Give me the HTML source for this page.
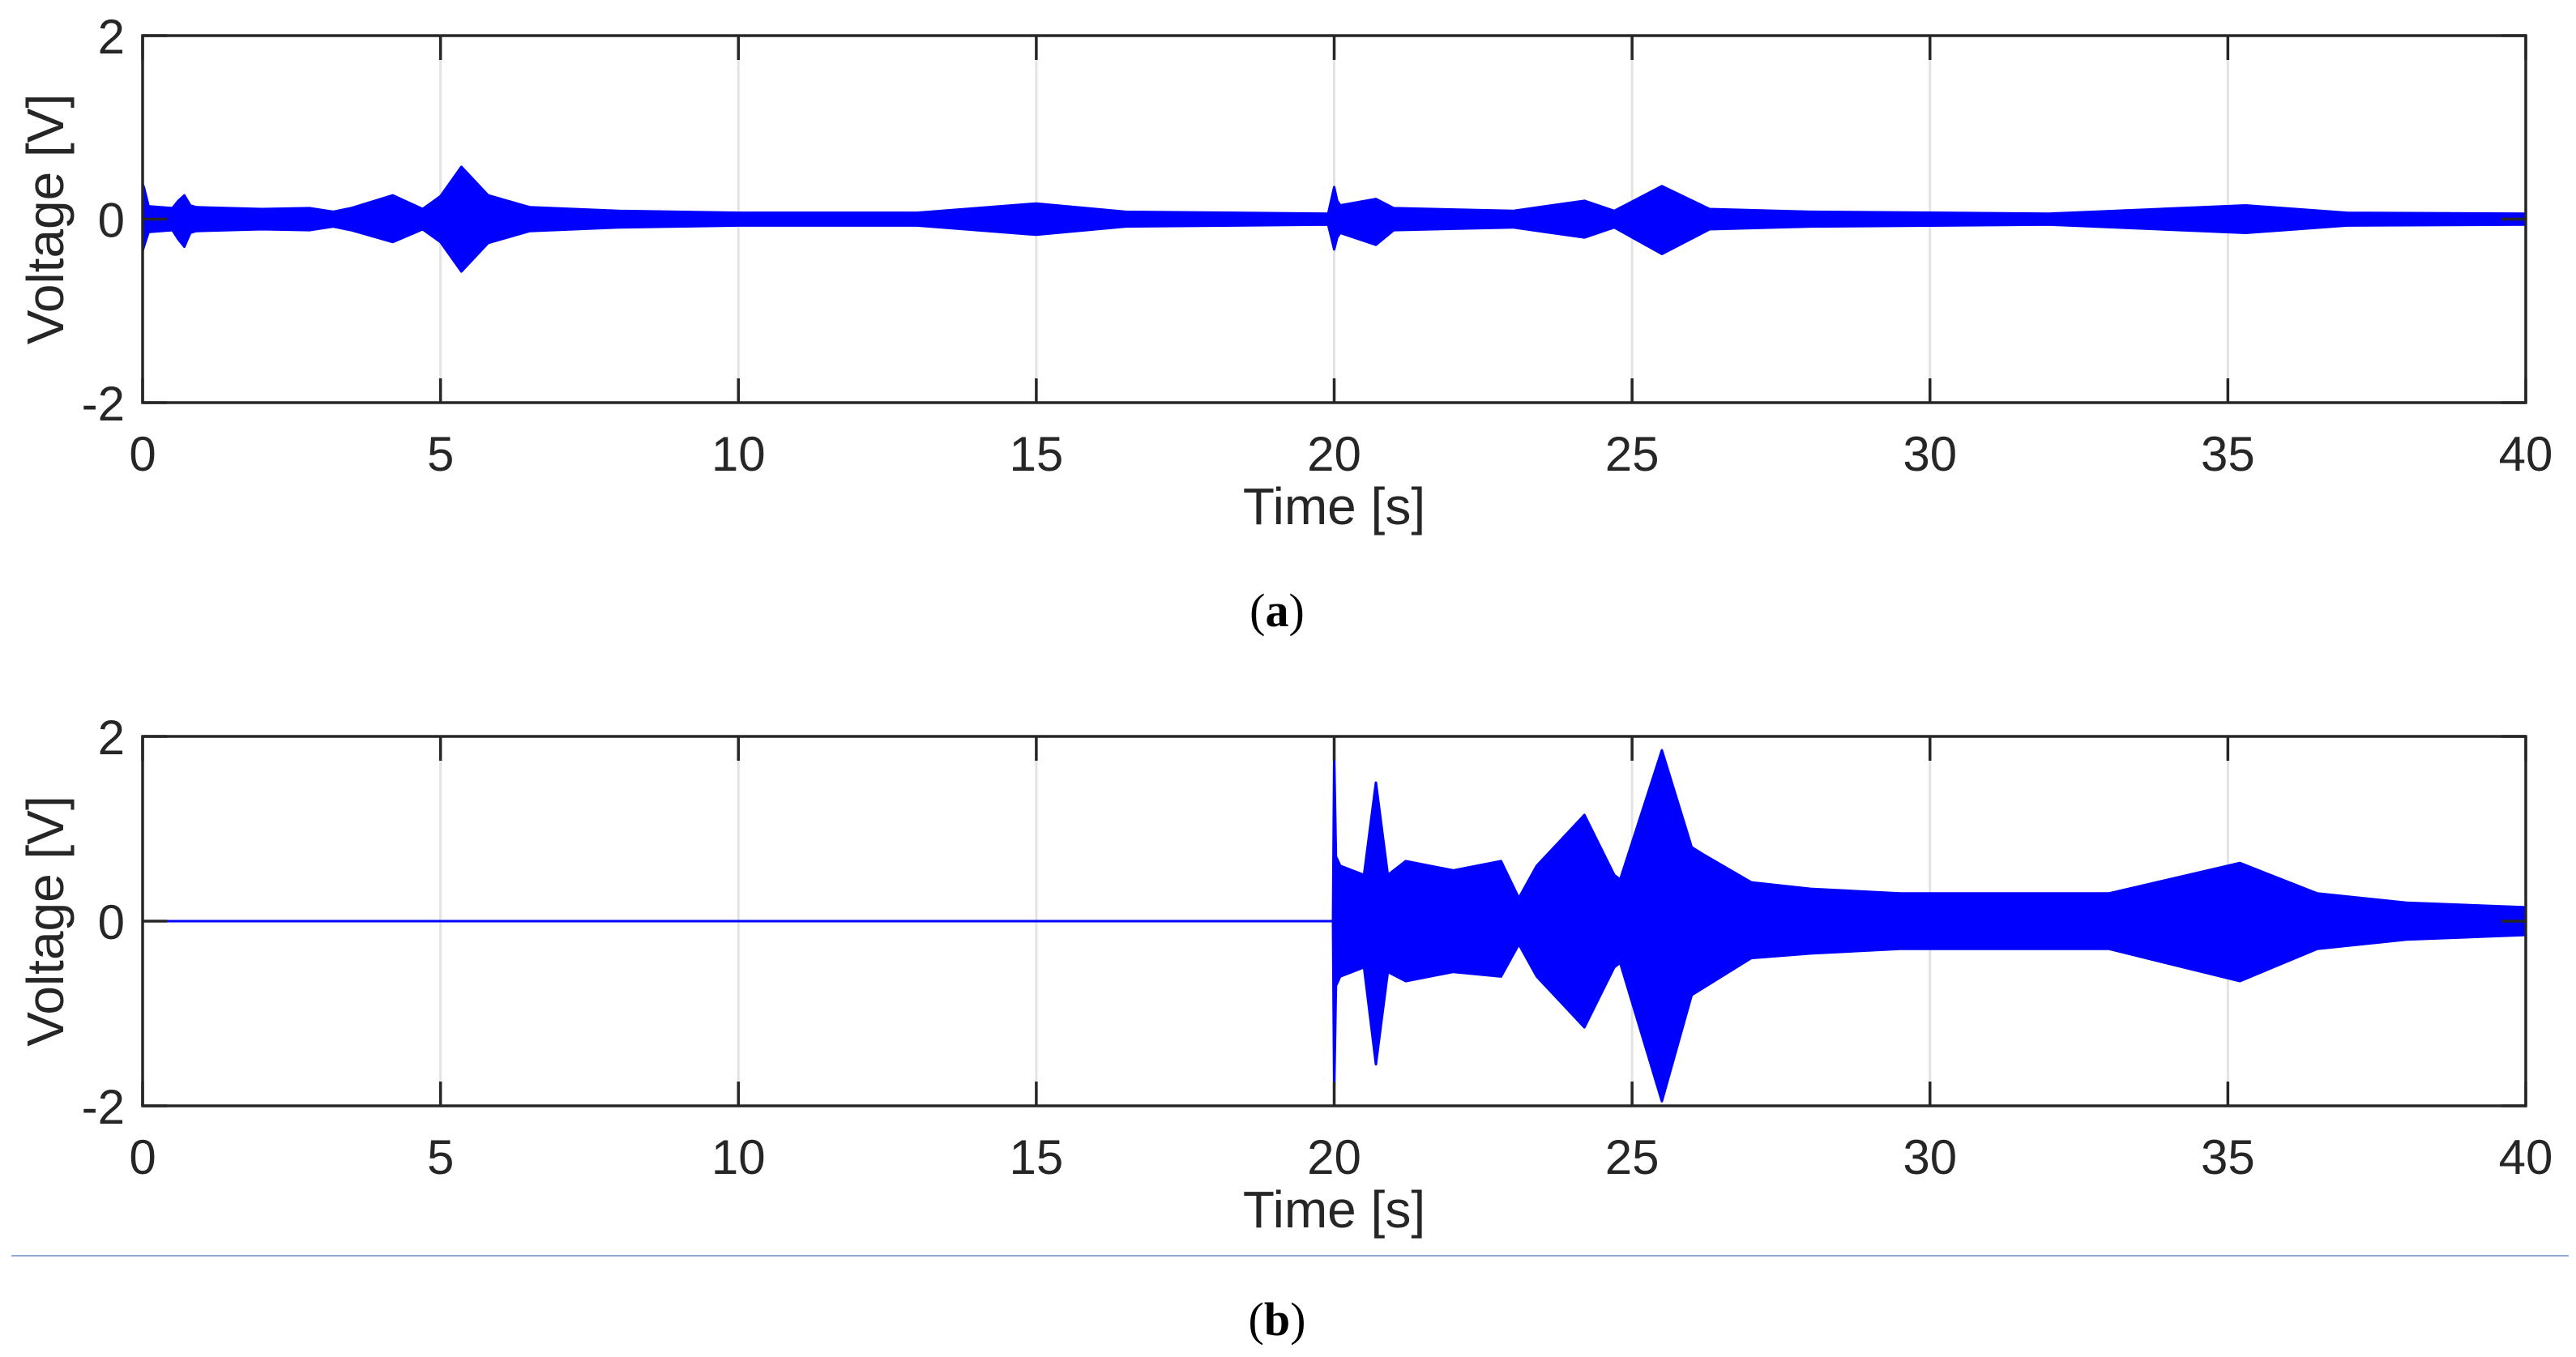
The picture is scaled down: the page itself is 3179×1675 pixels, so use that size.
<!DOCTYPE html>
<html><head><meta charset="utf-8"><style>
html,body{margin:0;padding:0;background:#fff;}
svg{display:block;}
text{font-family:"Liberation Sans",sans-serif;fill:#262626;}
</style></head><body>
<svg id="fig" width="3179" height="1675" viewBox="0 0 3179 1675"></svg>
<script>
// ---- data ----
const xTicks = [0,5,10,15,20,25,30,35,40];
const yTicks = [2,0,-2];
// panel (a) envelope
const timesA = [0,0.02,0.1,0.5,0.6,0.7,0.8,0.9,2,2.8,3.2,3.5,4.2,4.7,5.0,5.35,5.8,6.5,8,10,13,15,16.5,19.9,20,20.05,20.1,20.7,21,23,24.2,24.7,25.5,26.3,28,32,35.3,37,40];
const upperA = [0.38,0.35,0.14,0.12,0.2,0.26,0.15,0.13,0.11,0.12,0.08,0.12,0.26,0.11,0.25,0.57,0.26,0.13,0.09,0.07,0.07,0.17,0.08,0.06,0.35,0.2,0.15,0.22,0.12,0.09,0.2,0.09,0.36,0.11,0.08,0.06,0.15,0.07,0.06];
const lowerA = [-0.35,-0.3,-0.14,-0.12,-0.22,-0.3,-0.15,-0.13,-0.11,-0.12,-0.08,-0.12,-0.25,-0.11,-0.25,-0.57,-0.26,-0.13,-0.09,-0.07,-0.07,-0.17,-0.08,-0.06,-0.33,-0.2,-0.15,-0.28,-0.12,-0.09,-0.2,-0.09,-0.38,-0.11,-0.08,-0.06,-0.15,-0.07,-0.06];
// panel (b) envelope
const timesB = [0,19.98,20,20.03,20.1,20.5,20.7,20.9,21.2,22,22.8,23.1,23.4,24.2,24.7,24.8,25.5,26,26.2,27,28,29.5,33,35.2,36.5,38,40];
const upperB = [0,0,1.8,0.7,0.6,0.5,1.5,0.5,0.65,0.55,0.65,0.25,0.6,1.15,0.5,0.45,1.85,0.8,0.72,0.42,0.35,0.3,0.3,0.63,0.3,0.2,0.15];
const lowerB = [0,0,-1.85,-0.7,-0.6,-0.5,-1.55,-0.55,-0.65,-0.55,-0.6,-0.25,-0.6,-1.15,-0.5,-0.45,-1.95,-0.8,-0.72,-0.4,-0.35,-0.3,-0.3,-0.65,-0.3,-0.2,-0.15];

const NS='http://www.w3.org/2000/svg';
const svg=document.getElementById('fig');
function mk(tag,attrs,parent){const e=document.createElementNS(NS,tag);for(const k in attrs)e.setAttribute(k,attrs[k]);(parent||svg).appendChild(e);return e;}

function panel(id,L,R,T,B,times,up,lo,caption,capY){
  const g=mk('g',{});
  
  
  const xs=t=>L+(t-0)/(40-0)*(R-L);
  const ys=v=>T+(2-v)/4*(B-T);
  xTicks.forEach(t=>{
    const gl=mk('line',{x1:xs(t),x2:xs(t),y1:T,y2:B,stroke:'#e3e3e3','stroke-width':3},g);
    
    
  });
  let d='';
  times.forEach((t,i)=>{d+=(i?'L':'M')+xs(t).toFixed(1)+','+ys(up[i]).toFixed(1);});
  for(let i=times.length-1;i>=0;i--){d+='L'+xs(times[i]).toFixed(1)+','+ys(lo[i]).toFixed(1);}
  d+='Z';
  const p=mk('path',{d:d,fill:'#0000ff',stroke:'#0000ff','stroke-width':3,'stroke-linejoin':'round'},g);
  
  
  const box=mk('rect',{x:L,y:T,width:R-L,height:B-T,fill:'none',stroke:'#262626','stroke-width':3.5},g);
  
  
  xTicks.forEach(t=>{
    mk('line',{x1:xs(t),x2:xs(t),y1:B,y2:B-30,stroke:'#262626','stroke-width':3.5},g);
    mk('line',{x1:xs(t),x2:xs(t),y1:T,y2:T+30,stroke:'#262626','stroke-width':3.5},g);
    const tx=mk('text',{x:xs(t),y:B+84,'text-anchor':'middle','font-size':60},g);
    tx.textContent=t;
    
    
  });
  yTicks.forEach(v=>{
    mk('line',{x1:L,x2:L+30,y1:ys(v),y2:ys(v),stroke:'#262626','stroke-width':3.5},g);
    mk('line',{x1:R,x2:R-30,y1:ys(v),y2:ys(v),stroke:'#262626','stroke-width':3.5},g);
    const ty=mk('text',{x:L-22,y:ys(v)+22,'text-anchor':'end','font-size':60},g);
    ty.textContent=v;
    
    
  });
  const xl=mk('text',{x:(L+R)/2,y:B+150,'text-anchor':'middle','font-size':64},g);
  xl.textContent='Time [s]';
  
  
  const yl=mk('text',{x:0,y:0,'text-anchor':'middle','font-size':64,transform:'translate(78,'+((T+B)/2)+') rotate(-90)'},g);
  yl.textContent='Voltage [V]';
  
  
  const cap=mk('text',{x:1576,y:capY,'text-anchor':'middle','font-size':58,style:'font-family:"Liberation Serif",serif;fill:#000'},g);
  cap.innerHTML='(<tspan font-weight="bold">'+caption+'</tspan>)';
  
  
}
panel('a',176,3117,44,497,timesA,upperA,lowerA,'a',773);
panel('b',176,3117,909,1365,timesB,upperB,lowerB,'b',1648);
const sep=mk('line',{x1:14,x2:3170,y1:1550,y2:1550,stroke:'#8fa8d8','stroke-width':2});


</script>
</body></html>
